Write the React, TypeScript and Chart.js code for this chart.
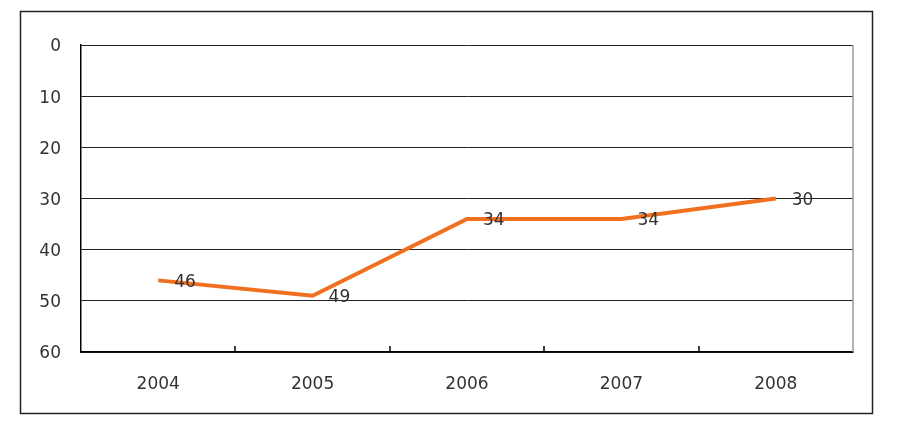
import React, { useEffect, useRef } from "react";
import { Chart, registerables } from "chart.js";

Chart.register(...registerables);

const categories = ["2004", "2005", "2006", "2007", "2008"];
const rankValues = [46, 49, 34, 34, 30];
const yTicks = [0, 10, 20, 30, 40, 50, 60];

const FONT = "'DejaVu Sans', sans-serif";

const decorPlugin = {
  id: "decor",
  afterDraw(chart: any) {
    const ctx = chart.ctx;
    const area = chart.chartArea;
    const xs = chart.scales.x;
    const ys = chart.scales.y;
    ctx.save();
    // outer frame
    ctx.strokeStyle = "#222";
    ctx.lineWidth = 1.5;
    ctx.strokeRect(20.5, 11.5, 852, 402);
    // right border of plot
    ctx.strokeStyle = "#999";
    ctx.lineWidth = 1.5;
    ctx.beginPath();
    ctx.moveTo(area.right, area.top);
    ctx.lineTo(area.right, area.bottom);
    ctx.stroke();
    // inside tick marks at category boundaries
    ctx.strokeStyle = "#000";
    ctx.lineWidth = 1.5;
    for (let i = 1; i < categories.length; i++) {
      const x = Math.round((xs.getPixelForValue(i - 1) + xs.getPixelForValue(i)) / 2);
      ctx.beginPath();
      ctx.moveTo(x, area.bottom - 6);
      ctx.lineTo(x, area.bottom);
      ctx.stroke();
    }
    // y-axis labels
    ctx.fillStyle = "#333";
    ctx.font = `17px ${FONT}`;
    ctx.textAlign = "right";
    ctx.textBaseline = "middle";
    yTicks.forEach((v) => {
      ctx.fillText(String(v), area.left - 20, ys.getPixelForValue(v) + 2);
    });
    // data labels
    const meta = chart.getDatasetMeta(0);
    ctx.textAlign = "left";
    meta.data.forEach((pt: any, i: number) => {
      ctx.fillText(String(rankValues[i]), pt.x + 16, pt.y + 2);
    });
    ctx.restore();
  },
};

export default function App() {
  const ref = useRef<HTMLCanvasElement>(null);
  useEffect(() => {
    if (!ref.current) return;
    const chart = new Chart(ref.current, {
      type: "line",
      data: {
        labels: categories,
        datasets: [
          {
            data: rankValues,
            borderColor: "#F07020",
            backgroundColor: "#F07020",
            borderWidth: 4,
            pointRadius: 0,
            tension: 0,
          },
        ],
      },
      options: {
        responsive: false,
        animation: false,
        layout: { padding: { left: 21, right: 54, top: 45, bottom: 11 } },
        plugins: { legend: { display: false }, tooltip: { enabled: false } },
        scales: {
          x: {
            offset: true,
            grid: { display: false, drawTicks: false },
            border: { display: true, color: "#000", width: 1.5 },
            ticks: { color: "#333", font: { family: FONT, size: 17 }, padding: 22 },
            afterFit: (s: any) => {
              s.height = 60;
            },
          },
          y: {
            reverse: true,
            min: 0,
            max: 60,
            afterBuildTicks: (s: any) => {
              s.ticks = yTicks.map((v) => ({ value: v }));
            },
            grid: { color: "#222", lineWidth: 1, drawTicks: false },
            border: { display: true, color: "#000", width: 1.5 },
            ticks: { display: false },
            afterFit: (s: any) => {
              s.width = 60;
            },
          },
        },
      },
      plugins: [decorPlugin],
    });
    return () => chart.destroy();
  }, []);
  return (
    <div style={{ position: "absolute", left: 0, top: 0, width: 907, height: 423, background: "#fff" }}>
      <canvas ref={ref} width={907} height={423} style={{ display: "block" }} />
    </div>
  );
}
